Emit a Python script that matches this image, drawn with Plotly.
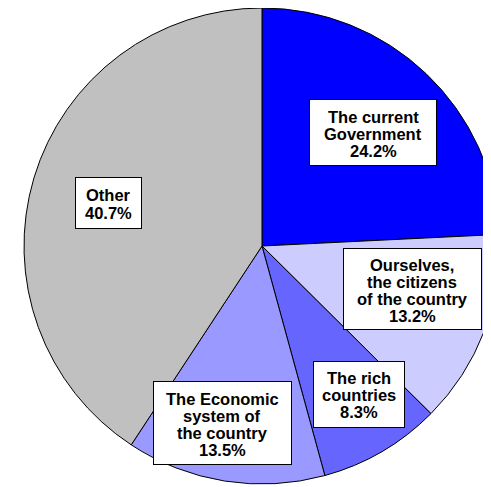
import plotly.graph_objects as go

labels = ["The current Government", "Ourselves, the citizens of the country",
          "The rich countries", "The Economic system of the country", "Other"]
values = [24.2, 13.2, 8.3, 13.5, 40.7]
colors = ["#0000ff", "#ccccff", "#6666ff", "#9999ff", "#c0c0c0"]
box_lines = [["The current", "Government", "24.2%"],
             ["Ourselves,", "the citizens", "of the country", "13.2%"],
             ["The rich", "countries", "8.3%"],
             ["The Economic", "system of", "the country", "13.5%"],
             ["Other", "40.7%"]]

fig = go.Figure(go.Pie(
    labels=labels,
    values=values,
    sort=False,
    direction="clockwise",
    rotation=0,
    marker=dict(colors=colors, line=dict(color="black", width=1)),
    textinfo="none",
    showlegend=False,
))

# figure is larger than the window so the pie gets cut on the right like the original
W, H = 500, 487
L, T, PW, PH = 16, 0, 476, 476
OFF = 8  # page body margin
LINE = 17  # line spacing of the label text

# label box centers (page px) and box sizes
box_x = [373, 412, 359, 222, 108]
box_y = [133, 289, 394, 423, 203]
box_w = [128, 139, 92, 139, 67]
box_h = [67, 82, 67, 84, 52]


def px(x, y):
    return (x - OFF - L) / PW, 1 - (y - OFF - T) / PH


for lines, x, y, w, h in zip(box_lines, box_x, box_y, box_w, box_h):
    bx, by = px(x, y)
    # the white box
    fig.add_annotation(
        text=" ", x=bx, y=by, xref="paper", yref="paper",
        xanchor="center", yanchor="middle", showarrow=False,
        width=w - 2, height=h - 2, borderpad=0,
        bgcolor="white", bordercolor="black", borderwidth=1,
    )
    n = len(lines)
    for i, line in enumerate(lines):
        lx, ly = px(x, y + (i - (n - 1) / 2) * LINE + 1)
        fig.add_annotation(
            text="<b>" + line + "</b>", x=lx, y=ly,
            xref="paper", yref="paper",
            xanchor="center", yanchor="middle", showarrow=False,
            font=dict(family="Liberation Sans", size=16.5, color="black"),
        )

fig.update_layout(
    width=W, height=H,
    margin=dict(l=L, r=W - L - PW, t=T, b=H - T - PH, pad=0),
    paper_bgcolor="white",
)

fig.write_html("out.html")
